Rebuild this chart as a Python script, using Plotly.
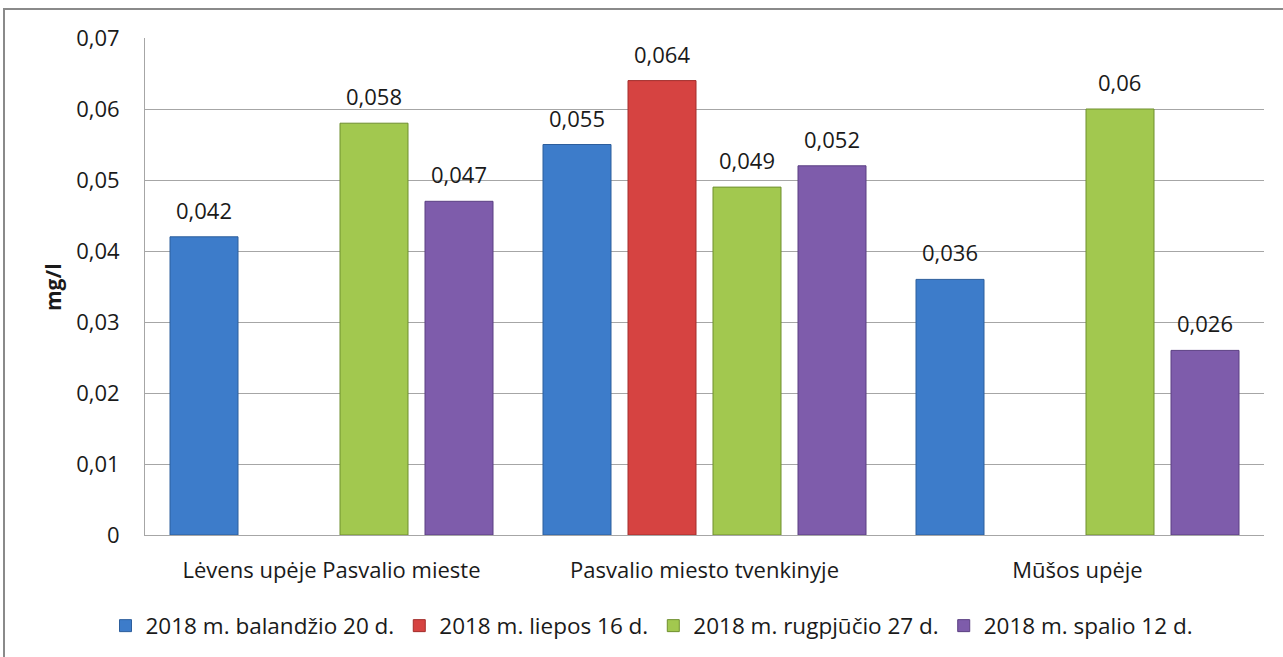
import plotly.graph_objects as go

categories = ["Lėvens upėje Pasvalio mieste", "Pasvalio miesto tvenkinyje", "Mūšos upėje"]
series_names = ["2018 m. balandžio 20 d.", "2018 m. liepos 16 d.",
                "2018 m. rugpjūčio 27 d.", "2018 m. spalio 12 d."]
balandzio = [0.042, 0.055, 0.036]
liepos = [None, 0.064, None]
rugpjucio = [0.058, 0.049, 0.06]
spalio = [0.047, 0.052, 0.026]
series_values = [balandzio, liepos, rugpjucio, spalio]
y_ticks = [0, 0.01, 0.02, 0.03, 0.04, 0.05, 0.06, 0.07]
y_title = "mg/l"

fills = ["#3D7CCA", "#D64341", "#A2C84F", "#7E5CAB"]
lines = ["#2D5E9C", "#A32E2C", "#6F8F2F", "#5B3F82"]

FONT = "'Open Sans', sans-serif"
FS = 22
W, H = 1283, 657
ML, MR, MT, MB = 145, 19, 38, 122
BARGAP, GROUPGAP = 0.0885, 0.2
plot_w = W - ML - MR
ph = H - MT - MB

fig = go.Figure()
for name, vals, fc, lc in zip(series_names, series_values, fills, lines):
    fig.add_trace(go.Bar(
        name=name, x=categories, y=vals,
        marker=dict(color=fc, line=dict(color=lc, width=1)),
        hoverinfo="skip",
    ))

# data labels
cat_w = plot_w / len(categories)
slot = cat_w * (1 - BARGAP) / len(series_values)
annotations = []
for i, vals in enumerate(series_values):
    shift = (i - (len(series_values) - 1) / 2) * slot
    for c, v in zip(categories, vals):
        if v is None:
            continue
        annotations.append(dict(
            x=c, y=v, xref="x", yref="y", text=str(v).replace(".", ","),
            showarrow=False, xshift=shift, yshift=27, yanchor="middle",
            font=dict(family=FONT, size=FS, color="#1a1a1a"),
        ))

annotations.append(dict(
    x=(53 - ML) / plot_w, y=(H - MB - 287) / ph, xref="paper", yref="paper",
    text="<b>" + y_title + "</b>",
    textangle=-90, showarrow=False, xanchor="center", yanchor="middle",
    font=dict(family=FONT, size=FS - 1, color="#1a1a1a"),
))

fig.update_layout(
    width=W, height=H,
    margin=dict(l=ML, r=MR, t=MT, b=MB, pad=0, autoexpand=False),
    paper_bgcolor="white", plot_bgcolor="white",
    barmode="group", bargap=BARGAP, bargroupgap=GROUPGAP,
    separators=", ",
    font=dict(family=FONT, size=FS, color="#1a1a1a"),
    showlegend=True,
    legend=dict(orientation="h", x=(652 - ML) / plot_w, xanchor="center",
                y=(H - MB - 626) / ph, yanchor="middle",
                font=dict(family=FONT, size=FS + 0.5, color="#1a1a1a"),
                itemwidth=30, traceorder="normal"),
    annotations=annotations,
    shapes=[dict(type="rect", xref="paper", yref="paper",
                 x0=(4 - ML) / plot_w, x1=(W + 300 - ML) / plot_w,
                 y0=(H - MB - H - 300) / ph, y1=(H - MB - 9) / ph,
                 line=dict(color="#8a8a8a", width=2), fillcolor="rgba(0,0,0,0)", layer="below")],
)
fig.update_yaxes(range=[0, 0.07], tickvals=y_ticks, tickformat=".2~f",
                 showgrid=True, gridcolor="#a6a6a6", gridwidth=1,
                 showline=True, linecolor="#a6a6a6", linewidth=1,
                 zeroline=False, ticks="", ticklabelstandoff=20,
                 tickfont=dict(family=FONT, size=FS, color="#1a1a1a"))
fig.update_xaxes(showline=True, linecolor="#a6a6a6", linewidth=1, ticks="",
                 ticklabelstandoff=16,
                 tickfont=dict(family=FONT, size=FS, color="#1a1a1a"))

fig.write_html("out.html", config={"displayModeBar": False},
               post_script="document.body.style.margin='0';")
